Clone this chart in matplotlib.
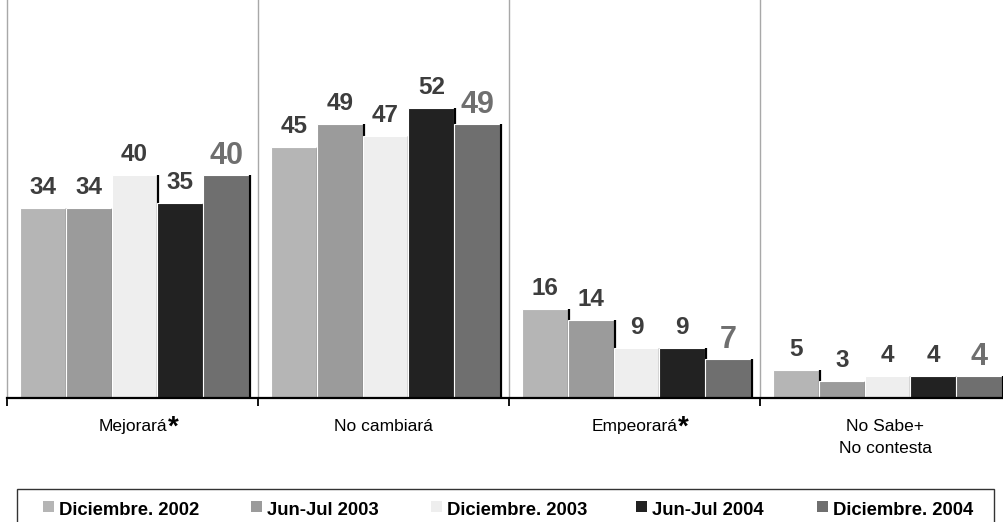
import matplotlib
matplotlib.use("Agg")
import matplotlib.pyplot as plt
from matplotlib.patches import Rectangle
import numpy as np

categories = ["Mejorará", "No cambiará", "Empeorará", "No Sabe+\nNo contesta"]
asterisk = [True, False, True, False]
series_names = ["Diciembre. 2002", "Jun-Jul 2003", "Diciembre. 2003", "Jun-Jul 2004", "Diciembre. 2004"]
dic_2002 = [34, 45, 16, 5]
junjul_2003 = [34, 49, 14, 3]
dic_2003 = [40, 47, 9, 4]
junjul_2004 = [35, 52, 9, 4]
dic_2004 = [40, 49, 7, 4]
series_values = [dic_2002, junjul_2003, dic_2003, junjul_2004, dic_2004]

colors = ["#b5b5b5", "#9b9b9b", "#eeeeee", "#222222", "#6f6f6f"]
label_colors = ["#3d3d3d", "#3d3d3d", "#3d3d3d", "#3d3d3d", "#6f6f6f"]
label_sizes = [17.5, 17.5, 17.5, 17.5, 22]
label_offsets = [6.5, 6.5, 6.5, 6.5, 3]

plt.rcParams['font.family'] = ['Liberation Sans', 'DejaVu Sans']

W, H = 1004, 522
fig = plt.figure(figsize=(W / 100, H / 100), dpi=100)
ax = fig.add_axes([7 / W, (H - 398) / H, 1.0, 398 / H])
ax.set_xlim(-0.5, 3.5)
ax.set_ylim(0, 71.3)

n = len(series_values)
x = np.arange(len(categories))
group_w = 0.912
bw = group_w / n

for i, vals in enumerate(series_values):
    pos = x - group_w / 2 + bw * (i + 0.5) + 0.008
    ax.bar(pos, vals, width=bw, color=colors[i], edgecolor="white", linewidth=0.8,
           zorder=2 + 2 * i)
    # dark right-edge line (partially hidden by next bar)
    ax.vlines(pos + bw / 2 + 0.004, 0, vals, color="black", linewidth=1.6, zorder=3 + 2 * i)
    for xp, v in zip(pos, vals):
        ax.annotate(str(v), xy=(xp, v), xytext=(0, label_offsets[i]), textcoords="offset points",
                    ha="center", va="bottom", fontsize=label_sizes[i], fontweight="bold",
                    color=label_colors[i], zorder=20)

# vertical separators
for b in [0.5, 1.5, 2.5]:
    ax.axvline(b, color="#a8a8a8", linewidth=1.0, zorder=1)

for s in ["top", "right"]:
    ax.spines[s].set_visible(False)
ax.spines["left"].set_color("#a8a8a8")
ax.spines["left"].set_linewidth(1.0)
ax.spines["bottom"].set_color("black")
ax.spines["bottom"].set_linewidth(1.6)
ax.spines["bottom"].set_zorder(30)

ax.set_yticks([])
ax.set_xticks([-0.5, 0.5, 1.5, 2.5, 3.5])
ax.set_xticklabels([])
ax.tick_params(axis="x", direction="out", length=6, width=1.3, color="black")

for i, cat in enumerate(categories):
    t = ax.annotate(cat, xy=(x[i], 0), xycoords=("data", "axes fraction"),
                    xytext=(0, -15), textcoords="offset points", ha="center", va="top",
                    fontsize=12.5, color="black", linespacing=1.6, annotation_clip=False)
    if asterisk[i]:
        ax.annotate("*", xy=(1, 1), xycoords=t, xytext=(0.5, 3), textcoords="offset points",
                    ha="left", va="top", fontsize=20, fontweight="bold", color="black",
                    annotation_clip=False)

# legend box (manual)
def fx(px):
    return px / W

def fy(py):
    return 1 - py / H

fig.patches.append(Rectangle((fx(17), fy(540)), fx(994) - fx(17), fy(489) - fy(540),
                             transform=fig.transFigure, facecolor="none",
                             edgecolor="#333333", linewidth=1.0))
marker_left = [43, 251, 431, 636, 817]
for i, name in enumerate(series_names):
    fig.patches.append(Rectangle((fx(marker_left[i]), fy(512)), fx(11), 11 / H,
                                 transform=fig.transFigure, facecolor=colors[i],
                                 edgecolor="none"))
    fig.text(fx(marker_left[i] + 16), fy(515), name, ha="left", va="baseline",
             fontsize=13.3, fontweight="bold", color="black")

fig.savefig("out.png", dpi=100)
